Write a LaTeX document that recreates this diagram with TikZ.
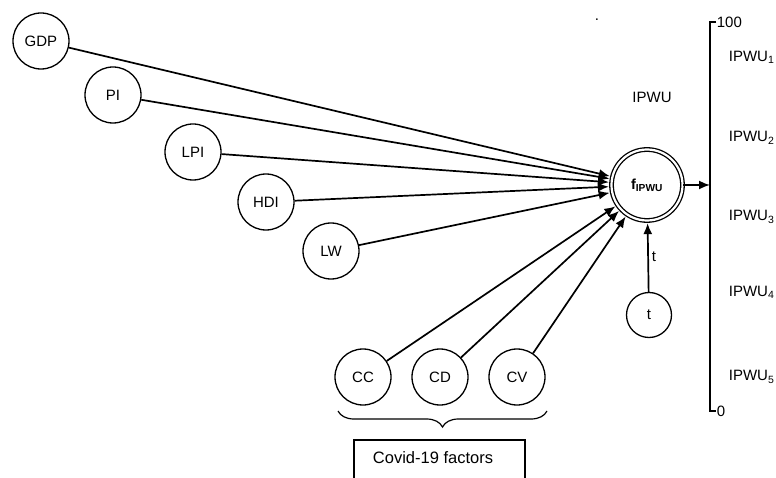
\documentclass[tikz,border=0pt]{standalone}
\usepackage{fontspec}
\setmainfont{Liberation Sans}
\usetikzlibrary{arrows.meta,decorations.pathreplacing}

\tikzset{fac/.style={circle,draw,line width=1.3pt,minimum size=56pt,inner sep=0pt,font=\fontsize{15}{18}\selectfont},
lab/.style={font=\fontsize{15}{18}\selectfont,inner sep=1pt}}

\begin{document}
\begin{tikzpicture}[x=1pt,y=-1pt,line width=1.7pt,>={Latex[length=11pt,width=9pt]}]
\clip (0,0) rectangle (776,478);
\node[fac,minimum size=71pt,double,double distance=2.2pt] (fi) at (647,185) {\fontsize{14.5}{16}\selectfont\textbf{f\textsubscript{IPWU}}};
\foreach \n/\x/\y in {GDP/41/41,PI/113/95,LPI/193/152,HDI/266/202,LW/331/251}{
\node[fac] (\n) at (\x,\y) {\n};
\draw[->,shorten >=2pt] (\n) -- (fi);}
\foreach \n/\x in {CC/363,CD/440,CV/517}{
\node[fac] (\n) at (\x,377) {\n};
\draw[->,shorten >=2pt] (\n) -- (fi);}
\node[fac,minimum size=45pt] (tn) at (649,315) {t};
\draw[->,shorten >=2pt] (tn) -- node[lab,right,xshift=2pt]{t} (fi);
% axis
\draw[line width=2pt] (716,22) -- (710,22) -- (710,411) -- (716,411);
\coordinate (ax) at (710,185);
\draw[->] (fi) -- (ax);
\node[lab,anchor=west] (hi) at (715,22) {100};
\node[lab,anchor=west] (lo) at (715,411) {0};
\foreach \k/\y in {1/57,2/138,3/217,4/292,5/377}{
\node[lab,anchor=west] (ip\k) at (727,\y) {IPWU\textsubscript{\k}};}
\node[lab] (ipwu) at (652,97) {IPWU};
\node[lab] (dot) at (597,20) {.};
% covid group
\coordinate (bl) at (338,411);
\coordinate (br) at (547,411);
\draw[line width=1.2pt,decorate,decoration={brace,mirror,amplitude=16pt}] (bl) -- (br);
\draw[line width=1.2pt] (354,500) -- (354,440) -- (525,440) -- (525,500);
\node[font=\fontsize{16.5}{19}\selectfont] (cov) at (433,458) {Covid-19 factors};
\end{tikzpicture}
\end{document}
